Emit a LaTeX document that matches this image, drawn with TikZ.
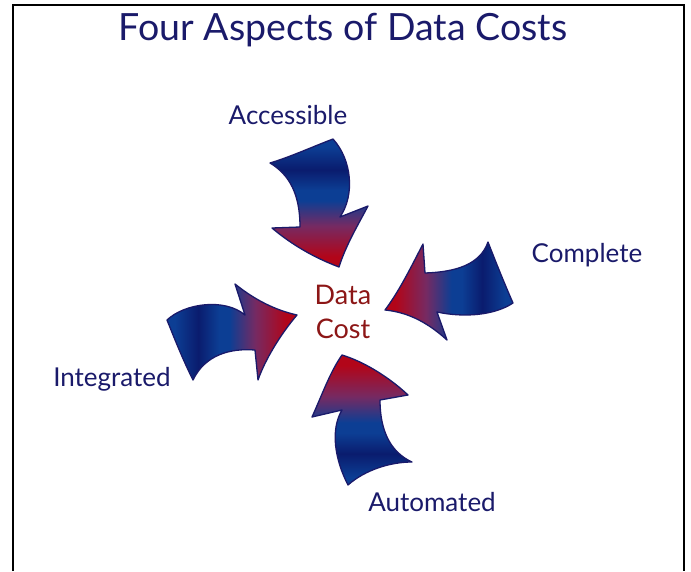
\documentclass[tikz,border=0pt]{standalone}
\usepackage{fontspec}
\setmainfont{Lato}
\definecolor{ink}{RGB}{26,26,106}
\definecolor{costred}{RGB}{140,22,22}
\definecolor{arrblue}{RGB}{12,62,148}
\definecolor{arrnavy}{RGB}{10,28,110}
\definecolor{arrmauve}{RGB}{118,42,98}
\definecolor{arrred}{RGB}{178,5,25}
\pgfdeclarehorizontalshading{costflow}{100bp}{color(0bp)=(arrblue); color(28bp)=(arrblue); color(37bp)=(arrnavy); color(45bp)=(arrblue); color(49bp)=(arrblue); color(59bp)=(arrmauve); color(71bp)=(arrred); color(100bp)=(arrred)}

\begin{document}
\begin{tikzpicture}[x=1pt,y=-1pt,
  aspect/.style={text=ink,font=\fontsize{26}{30}\selectfont,inner sep=0pt,anchor=base},
  swoosh/.style={draw=ink,line width=1.3pt,line join=round,shading=costflow}]
\useasboundingbox (0,0) rectangle (691,571);
\draw[line width=2pt] (13,571) -- (13,5) -- (684,5) -- (684,571);
\node[aspect,font=\fontsize{37.5}{40}\selectfont] (title) at (343,40) {Four Aspects of Data Costs};
\node[aspect] (access) at (288,124) {Accessible};
\node[aspect] (complete) at (587,262) {Complete};
\node[aspect] (integr) at (112,386) {Integrated};
\node[aspect] (autom) at (432,511) {Automated};
\node[text=costred,font=\fontsize{27}{34}\selectfont,inner sep=0pt,align=center,anchor=north] (datacost) at (343,285) {Data\\Cost};
\draw[swoosh,shading angle=270] (270,163) .. controls (290,157) and (312,147) .. (333,139) .. controls (352,160) and (355,195) .. (340,217) -- (368,206) .. controls (358,225) and (346,245) .. (339,267) .. controls (315,258) and (292,245) .. (272,228) -- (300,227) .. controls (300,195) and (290,175) .. (270,163) -- cycle;
\draw[swoosh,shading angle=180] (385,310) .. controls (400,290) and (412,265) .. (423,244) -- (425,273) .. controls (455,272) and (480,265) .. (488,242) .. controls (495,260) and (505,285) .. (513,303) .. controls (495,315) and (465,318) .. (437,312) -- (447,340) .. controls (425,320) and (405,312) .. (385,310) -- cycle;
\draw[swoosh,shading angle=0] (167,320) .. controls (185,303) and (225,298) .. (245,315) -- (235,284) .. controls (255,300) and (275,310) .. (297,315) .. controls (280,335) and (265,360) .. (258,380) -- (255,350) .. controls (230,348) and (205,355) .. (193,380) .. controls (183,360) and (175,340) .. (167,320) -- cycle;
\draw[swoosh,shading angle=90] (342,355) .. controls (365,362) and (390,378) .. (408,395) -- (380,400) .. controls (380,430) and (390,452) .. (412,462) .. controls (390,462) and (365,470) .. (348,485) .. controls (335,460) and (330,430) .. (342,410) -- (312,417) .. controls (322,395) and (330,372) .. (342,355) -- cycle;
\end{tikzpicture}
\end{document}
